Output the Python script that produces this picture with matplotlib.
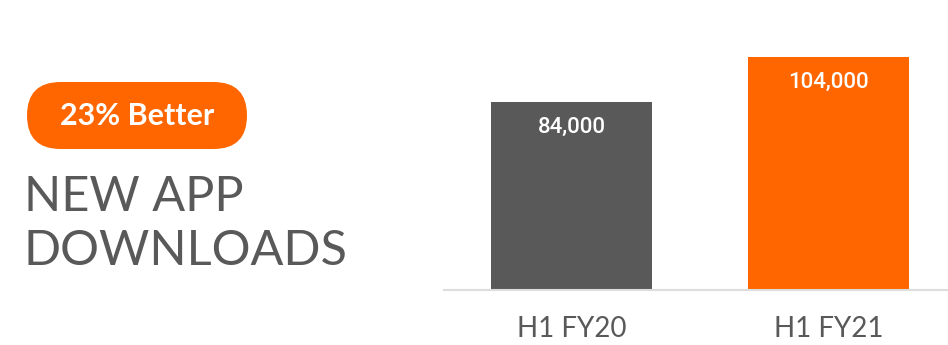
import matplotlib
matplotlib.use("Agg")
import matplotlib.pyplot as plt
from matplotlib.patches import FancyBboxPatch

periods = ["H1 FY20", "H1 FY21"]
downloads = [84000, 104000]
bar_colors = ["#595959", "#ff6600"]
badge_text = "23% Better"
title_lines = "NEW APP\nDOWNLOADS"

plt.rcParams['font.family'] = ['Lato', 'DejaVu Sans']

fig = plt.figure(figsize=(9.48, 3.45), dpi=100)

# left side: badge + title drawn in pixel space
bg = fig.add_axes([0, 0, 1, 1])
bg.set_xlim(0, 948)
bg.set_ylim(345, 0)
bg.axis('off')
pill = FancyBboxPatch((27, 82), 220, 67, boxstyle="round,pad=0,rounding_size=33.5",
                      facecolor="#ff6600", edgecolor="none")
bg.add_patch(pill)
bg.text(137, 116, badge_text, color="white", fontsize=22, fontweight="bold",
        ha="center", va="center")
bg.text(24, 224, title_lines, color="#595959", fontsize=35, fontweight="normal",
        ha="left", va="center", linespacing=1.28)

# bar chart
ax = fig.add_axes([444 / 948, 55 / 345, 504 / 948, 268.6 / 345])
x = range(len(periods))
bars = ax.bar(x, downloads, width=0.626, color=bar_colors)
ax.set_xlim(-0.496, 1.465)
ax.set_ylim(0, 120000)
for i, v in enumerate(downloads):
    ax.annotate(f"{v:,}", (i, v), xytext=(0, -18), textcoords="offset points",
                ha="center", va="center", color="white", fontsize=16,
                fontweight="medium", family=["Roboto", "DejaVu Sans"])
ax.set_xticks(list(x))
ax.set_xticklabels(periods, fontsize=20, color="#595959")
ax.tick_params(axis='x', length=0, pad=19)
ax.set_yticks([])
for s in ["top", "right", "left"]:
    ax.spines[s].set_visible(False)
ax.spines["bottom"].set_color("#dddddd")
ax.spines["bottom"].set_linewidth(1.5)

fig.savefig("out.png", dpi=100)
